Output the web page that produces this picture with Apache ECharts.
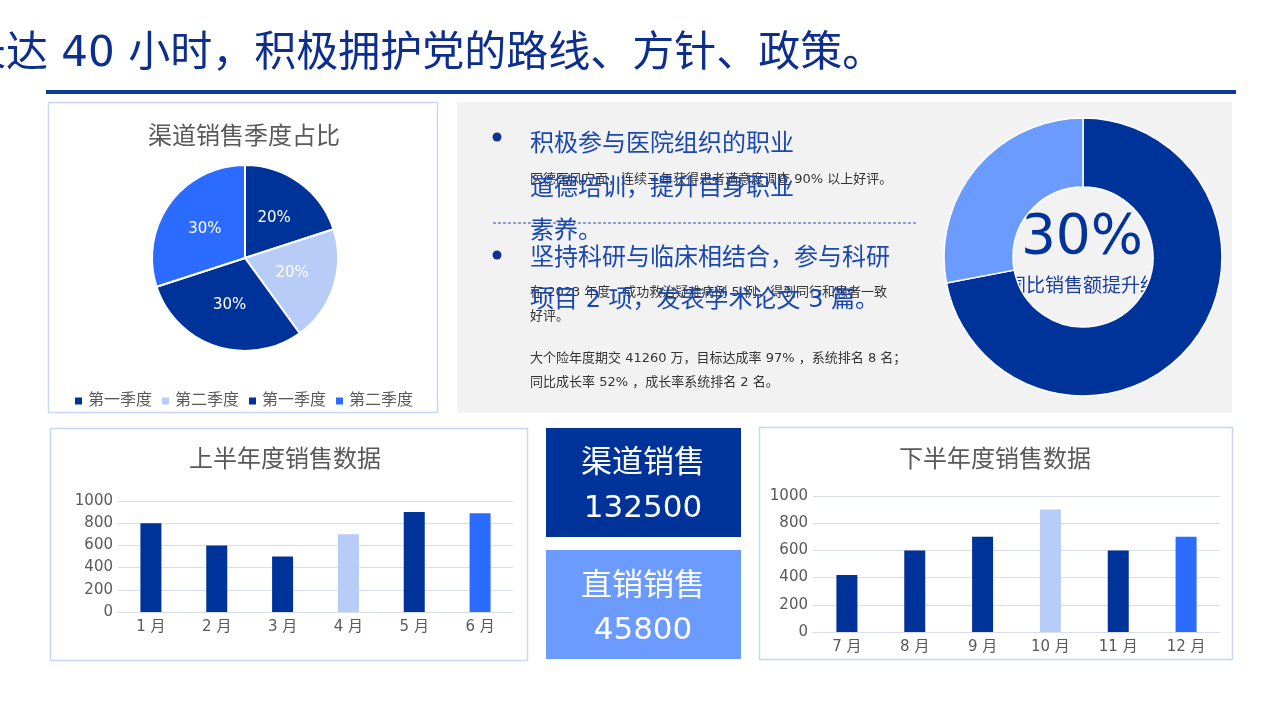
<!DOCTYPE html>
<html>
<head>
<meta charset="utf-8">
<title>销售数据</title>
<script src="https://cdn.jsdelivr.net/npm/echarts@6/dist/echarts.min.js"></script>
<style>
    html, body { margin: 0; padding: 0; background: #fff; }
    #myChart { width: 1280px; height: 719px; }
</style>
</head>
<body>
<div id="myChart"></div>
<script>
// 数据
var quarterNames = ['第一季度', '第二季度', '第一季度\u200b', '第二季度\u200b'];  // 图例重名，用零宽字符区分
var quarterValues = [20, 20, 30, 30];

var h1Months = ['1 月', '2 月', '3 月', '4 月', '5 月', '6 月'];
var h1Values = [800, 600, 500, 700, 900, 890];

var h2Months = ['7 月', '8 月', '9 月', '10 月', '11 月', '12 月'];
var h2Values = [420, 600, 700, 900, 600, 700];

var growthValues = [72, 28];  // 环形图
var growthLabel = '30%';

var channelSales = '132500';
var directSales = '45800';

var DARK = '#003399';
var PALE = '#B8CCF8';
var BRIGHT = '#2B6BFF';
var SOFT = '#6B9BFF';
var FONT = '"DejaVu Sans", "Noto Sans CJK SC", sans-serif';

window.onload = function () {

    var myChart = echarts.init(document.getElementById('myChart'));

    var barColors = [DARK, DARK, DARK, PALE, DARK, BRIGHT];
    var pieColors = [DARK, PALE, DARK, BRIGHT];

    function barData(values) {
        return values.map(function (v, i) {
            return {value: v, itemStyle: {color: barColors[i]}};
        });
    }

    function txt(text, x, y, size, color, align, z) {
        return {
            type: 'text',
            z: z || 1,
            style: {
                text: text,
                x: x,
                y: y,
                fill: color,
                font: size + 'px ' + FONT,
                align: align || 'left',
                verticalAlign: 'middle'
            }
        };
    }

    function panel(x, y, w, h) {
        return {
            type: 'rect',
            z: 0,
            shape: {x: x, y: y, width: w, height: h},
            style: {fill: '#fff', stroke: '#C9D7F4', lineWidth: 1.5}
        };
    }

    function plain(v) {
        return String(v);  // 不要千位分隔符
    }

    var axisLabel = {color: '#595959', fontSize: 15, fontFamily: FONT};
    var blue = '#1A47B0';

    var option = {
        backgroundColor: '#fff',
        animation: false,
        graphic: [
            // 顶部标题
            {
                type: 'text',
                z: 1,
                style: {
                    text: '长达 40 小时，积极拥护党的路线、方针、政策。',
                    x: -36, y: 55,
                    fill: '#0C2E8E',
                    font: '42px ' + FONT,
                    verticalAlign: 'middle'
                }
            },
            {type: 'rect', z: 0, shape: {x: 46, y: 90, width: 1190, height: 4}, style: {fill: '#0A3A9A'}},

            // 面板
            panel(48.5, 102.5, 389, 310),
            {type: 'rect', z: 0, shape: {x: 457, y: 102, width: 775, height: 311}, style: {fill: '#F2F2F2'}},
            panel(50.5, 428.5, 477, 232),
            panel(759.5, 427.5, 473, 232),
            {type: 'rect', z: 0, shape: {x: 546, y: 428, width: 195, height: 109}, style: {fill: DARK}},
            {type: 'rect', z: 0, shape: {x: 546, y: 550, width: 195, height: 109}, style: {fill: SOFT}},

            // 面板标题
            txt('渠道销售季度占比', 244, 138, 24, '#595959', 'center'),
            txt('上半年度销售数据', 285, 461, 24, '#595959', 'center'),
            txt('下半年度销售数据', 995, 461, 24, '#595959', 'center'),

            // 中间文字
            {type: 'circle', z: 1, shape: {cx: 497, cy: 137, r: 4.5}, style: {fill: '#0F3193'}},
            {type: 'circle', z: 1, shape: {cx: 497, cy: 255, r: 4.5}, style: {fill: '#0F3193'}},
            txt('医德医风方面，连续三年获得患者满意度调查 90% 以上好评。', 530, 180, 13, '#333', 'left', 1),
            txt('在 2023 年度，成功救治疑难病例 5 例，得到同行和患者一致', 530, 293, 13, '#333', 'left', 1),
            txt('好评。', 530, 317, 13, '#333', 'left', 1),
            txt('大个险年度期交 41260 万，目标达成率 97% ，系统排名 8 名；', 530, 359, 13, '#333', 'left', 1),
            txt('同比成长率 52% ，成长率系统排名 2 名。', 530, 383, 13, '#333', 'left', 1),
            txt('积极参与医院组织的职业', 530, 145, 24, blue, 'left', 2),
            txt('道德培训，提升自身职业', 530, 189, 24, blue, 'left', 2),
            txt('素养。', 530, 232, 24, blue, 'left', 2),
            txt('坚持科研与临床相结合，参与科研', 530, 259, 24, blue, 'left', 2),
            txt('项目 2 项，发表学术论文 3 篇。', 530, 301, 24, blue, 'left', 2),
            {
                type: 'line', z: 1,
                shape: {x1: 493, y1: 223, x2: 917, y2: 223},
                style: {stroke: '#2A4FAF', lineWidth: 1, lineDash: [3, 2]}
            },

            // 环形图中心文字（被圆环遮住两端）
            txt(growthLabel, 1082, 239, 55, '#00349A', 'center', 1),
            txt('同比销售额提升约', 1083, 287, 19, '#1A3E9E', 'center', 1),

            // 中间两个数字块
            txt('渠道销售', 643, 464, 31, '#fff', 'center', 1),
            txt(channelSales, 643, 509, 31, '#fff', 'center', 1),
            txt('直销销售', 643, 587, 31, '#fff', 'center', 1),
            txt(directSales, 643, 631, 31, '#fff', 'center', 1)
        ],
        legend: {
            data: quarterNames,
            left: 73,
            top: 393,
            padding: 0,
            icon: 'rect',
            itemWidth: 9,
            itemHeight: 9,
            itemGap: 8,
            formatter: function (name) {
                return name.replace('\u200b', '');
            },
            textStyle: {color: '#595959', fontSize: 16, fontFamily: FONT}
        },
        grid: [{
            left: 118, top: 501, width: 395, height: 111
        }, {
            left: 813, top: 496, width: 407, height: 136
        }],
        xAxis: [{
            type: 'category',
            gridIndex: 0,
            data: h1Months,
            axisTick: {show: false},
            axisLine: {lineStyle: {color: '#D9DEE8'}},
            axisLabel: echarts.util.extend({margin: 8}, axisLabel)
        }, {
            type: 'category',
            gridIndex: 1,
            data: h2Months,
            axisTick: {show: false},
            axisLine: {lineStyle: {color: '#D9DEE8'}},
            axisLabel: echarts.util.extend({margin: 8}, axisLabel)
        }],
        yAxis: [{
            type: 'value',
            gridIndex: 0,
            min: 0, max: 1000, interval: 200,
            axisLine: {show: false},
            axisTick: {show: false},
            splitLine: {lineStyle: {color: '#D9DEE8'}},
            axisLabel: echarts.util.extend({margin: 5, formatter: plain}, axisLabel)
        }, {
            type: 'value',
            gridIndex: 1,
            min: 0, max: 1000, interval: 200,
            axisLine: {show: false},
            axisTick: {show: false},
            splitLine: {lineStyle: {color: '#D9DEE8'}},
            axisLabel: echarts.util.extend({margin: 5, formatter: plain}, axisLabel)
        }],
        series: [
            {
                type: 'pie',
                z: 2,
                center: [245, 258],
                radius: 93,
                startAngle: 90,
                data: quarterNames.map(function (n, i) {
                    return {name: n, value: quarterValues[i], itemStyle: {color: pieColors[i]}};
                }),
                itemStyle: {borderColor: '#fff', borderWidth: 2},
                label: {
                    position: 'inside',
                    formatter: '{c}%',
                    color: '#fff',
                    fontSize: 15,
                    fontFamily: FONT
                },
                labelLine: {show: false}
            },
            {
                type: 'pie',
                z: 3,
                center: [1083, 257],
                radius: [70, 139],
                startAngle: 90,
                silent: true,
                data: growthValues.map(function (v, i) {
                    return {value: v, itemStyle: {color: [DARK, SOFT][i]}};
                }),
                itemStyle: {borderColor: '#fff', borderWidth: 1.5},
                label: {show: false},
                labelLine: {show: false}
            },
            {
                type: 'bar',
                xAxisIndex: 0,
                yAxisIndex: 0,
                barWidth: 21,
                data: barData(h1Values)
            },
            {
                type: 'bar',
                xAxisIndex: 1,
                yAxisIndex: 1,
                barWidth: 21,
                data: barData(h2Values)
            }
        ]
    };

    myChart.setOption(option);
};
</script>
</body>
</html>
